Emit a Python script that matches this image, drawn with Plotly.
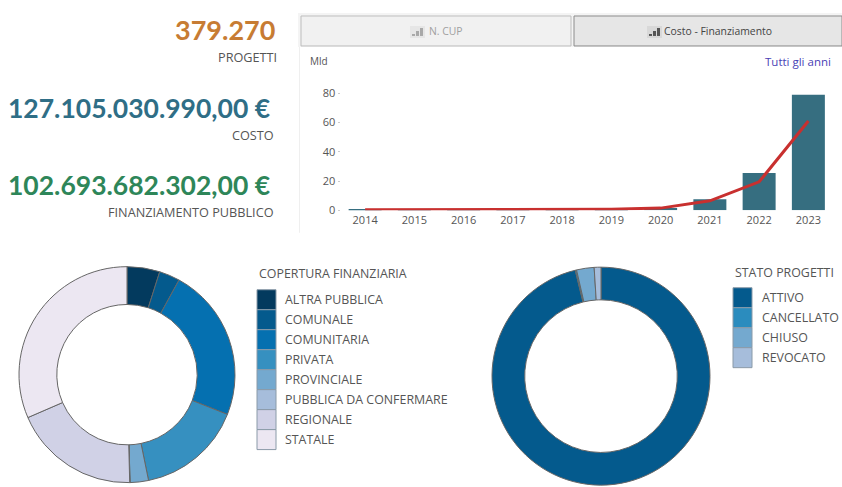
import plotly.graph_objects as go

W, H = 842, 487
LAYOUT_H = 510
K = 1.013

years = ["2014", "2015", "2016", "2017", "2018", "2019", "2020", "2021", "2022", "2023"]
costo = [0.6, 0.1, 0.1, 0.3, 0.1, 0.3, 1.6, 7.5, 25.5, 79.0]
finanziamento = [0.3, 0.3, 0.3, 0.8, 0.3, 0.8, 1.5, 6.5, 19.5, 61.0]

cop_labels = ["ALTRA PUBBLICA", "COMUNALE", "COMUNITARIA", "PRIVATA", "PROVINCIALE",
              "PUBBLICA DA CONFERMARE", "REGIONALE", "STATALE"]
cop_values = [4.9, 3.1, 23.0, 15.8, 2.75, 0.05, 18.9, 31.5]
cop_colors = ["#033a5e", "#045a8d", "#0570b0", "#3690c0", "#74a9cf", "#a6bddb", "#d0d1e6", "#ece7f2"]

stato_labels = ["ATTIVO", "CANCELLATO", "CHIUSO", "REVOCATO"]
stato_values = [96.2, 0.2, 2.6, 1.0]
stato_colors = ["#045a8d", "#2b8cbe", "#74a9cf", "#a6bddb"]

kpis = [("379.270", "#c77c33", 277, 30, 27, "PROGETTI", 277, 57),
        ("127.105.030.990,00 €", "#2f6e86", 272, 108, 26.5, "COSTO", 274, 135),
        ("102.693.682.302,00 €", "#2e8659", 272, 185, 26.5, "FINANZIAMENTO PUBBLICO", 274, 212)]

FONT = "Open Sans"
GREY = "#555555"


def px(x):
    return x / W


def py(y):
    return 1 - y * K / LAYOUT_H


def text(s, x, y, size=12, color=GREY, anchor="left", family=FONT, bold=False):
    nudge = -2 if anchor == "left" else 2
    return dict(text=f"<b>{s}</b>" if bold else s, x=px(x + nudge), y=py(y), xref="paper", yref="paper",
                showarrow=False, xanchor=anchor, yanchor="middle",
                font=dict(size=size, color=color, family=family))


def rect(x0, y0, x1, y1, fill, line="rgba(0,0,0,0)", width=1):
    return dict(type="rect", xref="paper", yref="paper", x0=px(x0), x1=px(x1), y0=py(y1), y1=py(y0),
                fillcolor=fill, line=dict(color=line, width=width), layer="below")


fig = go.Figure()
fig.add_bar(x=years, y=costo, marker=dict(color="#366e80", line=dict(width=0)), width=0.67, showlegend=False)
fig.add_scatter(x=years, y=finanziamento, mode="lines", line=dict(color="#c8302f", width=3), showlegend=False)
fig.add_pie(labels=cop_labels, values=cop_values, hole=0.65, sort=False, direction="clockwise", rotation=0,
            domain=dict(x=[px(19), px(235)], y=[py(485), py(265)]), textinfo="none",
            marker=dict(colors=cop_colors, line=dict(color="#666666", width=1)), showlegend=False)
fig.add_pie(labels=stato_labels, values=stato_values, hole=0.70, sort=False, direction="clockwise", rotation=0,
            domain=dict(x=[px(492), px(710)], y=[py(487), py(266)]), textinfo="none",
            marker=dict(colors=stato_colors, line=dict(color="#666666", width=1)), showlegend=False)

shapes = []
annotations = []

for value, color, vx, vy, vs, label, lx, ly in kpis:
    annotations.append(text(value, vx - 2, vy, size=vs, color=color, anchor="right", family="Lato", bold=True))
    annotations.append(text(label, lx, ly, size=12.7, anchor="right"))

# panel and buttons
shapes.append(rect(298, 13, 842, 47, "#f4f4f4"))
shapes.append(rect(299, 47, 300, 233, "#efefef"))
shapes.append(rect(301, 16, 571, 46, "#f1f1f1", "#bdbdbd"))
shapes.append(rect(574, 16, 842, 46, "#e6e6e6", "#8c8c8c"))
for x0, col, bg in [(410, "#a8a8a8", "#e6e6e6"), (647, "#555555", "#d8d8d8")]:
    shapes.append(rect(x0, 26, x0 + 15, 38, bg))
    for dx, top in [(2, 34), (6, 31), (10, 28)]:
        shapes.append(rect(x0 + dx, top, x0 + dx + 3, 36, col))
annotations.append(text("N. CUP", 429, 31, size=10.4, color="#a0a0a0"))
annotations.append(text("Costo - Finanziamento", 664, 31, size=10.4, color="#444444"))
annotations.append(text("Mld", 310, 61, size=10, color=GREY))
annotations.append(text("Tutti gli anni", 831, 62, size=11.5, color="#4a3fb5", anchor="right"))

# legends
annotations.append(text("COPERTURA FINANZIARIA", 259, 274, size=12.4))
for i, (lab, col) in enumerate(zip(cop_labels, cop_colors)):
    shapes.append(rect(257, 290 + 20 * i, 276, 310 + 20 * i, col, "#8a9aa8"))
    annotations.append(text(lab, 285, 299.5 + 20 * i, size=12.4))

annotations.append(text("STATO PROGETTI", 735, 273, size=12.4))
for i, (lab, col) in enumerate(zip(stato_labels, stato_colors)):
    shapes.append(rect(733, 288 + 20 * i, 752, 308 + 20 * i, col, "#8a9aa8"))
    annotations.append(text(lab, 762, 298 + 20 * i, size=12.4))

fig.update_layout(
    width=W, height=LAYOUT_H, margin=dict(l=0, r=0, t=0, b=0),
    paper_bgcolor="white", plot_bgcolor="white",
    shapes=shapes, annotations=annotations, bargap=0.33,
    xaxis=dict(domain=[px(340.5), px(833)], type="category", showgrid=False, zeroline=False,
               showline=False, ticks="", ticklabelstandoff=2, tickfont=dict(size=11, color=GREY, family=FONT)),
    yaxis=dict(domain=[py(210.5), py(85)], range=[0, 85.7], tickvals=[0, 20, 40, 60, 80], showgrid=False,
               zeroline=False, showline=False, ticks="outside", ticklen=2, tickcolor="#cccccc",
               tickfont=dict(size=11, color=GREY, family=FONT)),
)

fig.write_html("out.html", config=dict(displayModeBar=False),
               post_script="document.body.style.margin='0';document.body.style.overflow='hidden';")
